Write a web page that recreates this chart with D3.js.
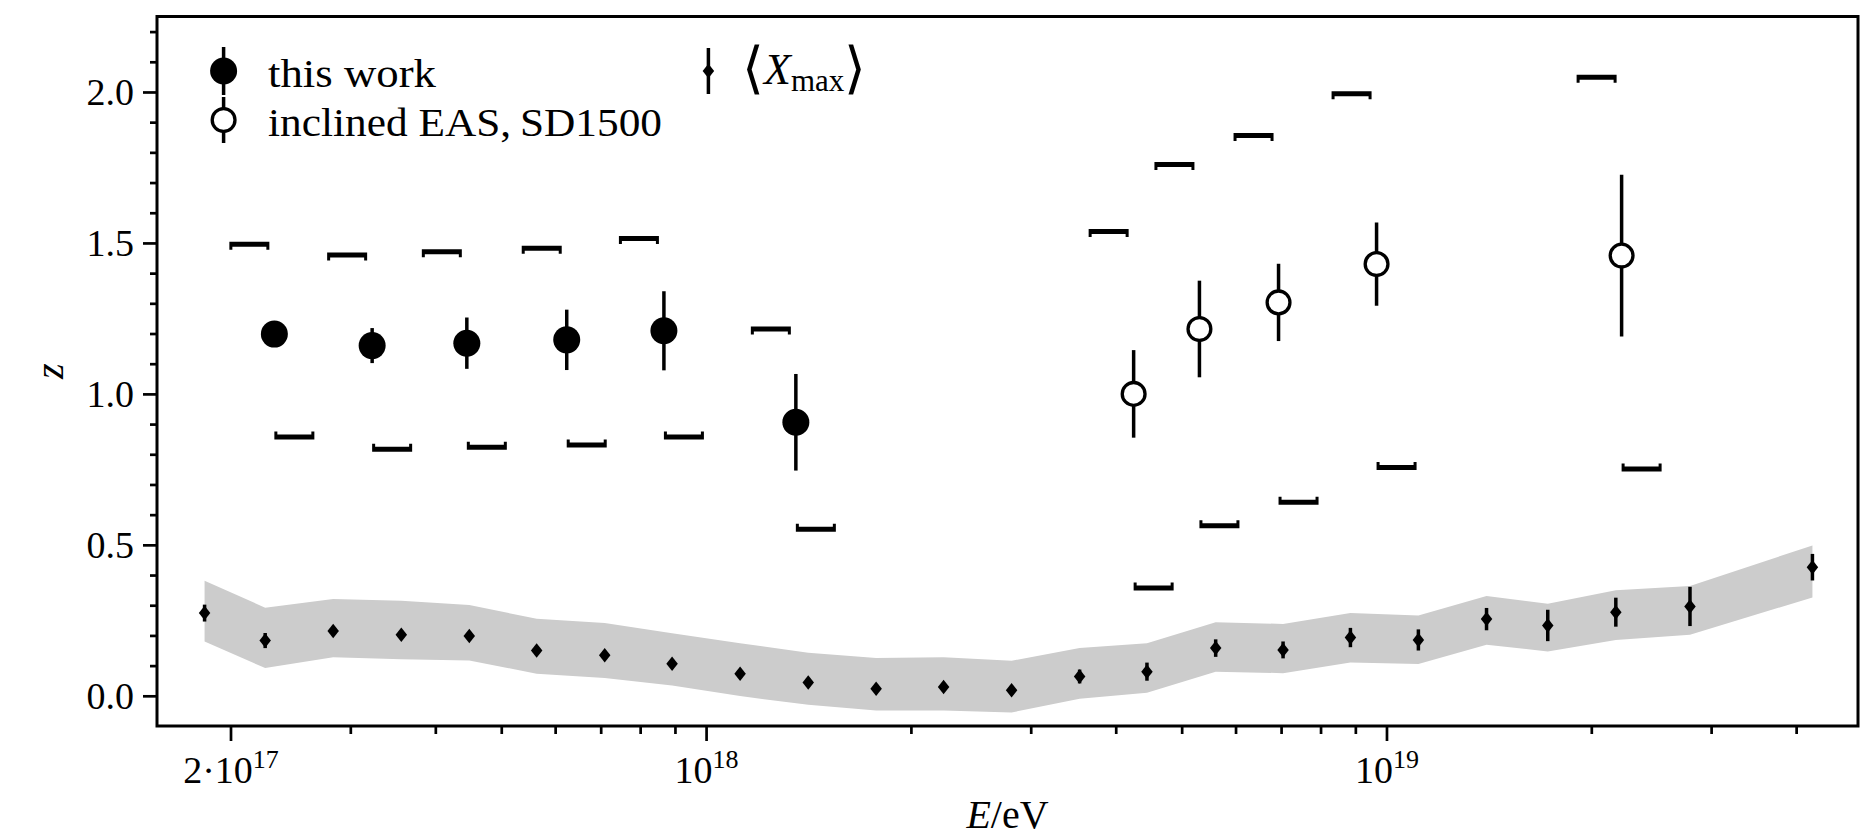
<!DOCTYPE html>
<html>
<head>
<meta charset="utf-8">
<script src="https://cdn.jsdelivr.net/npm/d3@7"></script>
<style>
  html, body { margin: 0; padding: 0; background: #fff; }
  svg { display: block; }
  text { font-family: "Liberation Serif", "DejaVu Serif", serif; fill: #000; }
</style>
</head>
<body>
<svg id="chart" width="1870" height="840"></svg>
<script>
// ---- z-factor measurements (this work, Auger SD-750) ----
const thisWorkE     = [2.32e17, 3.23e17, 4.45e17, 6.24e17, 8.67e17, 1.355e18];
const thisWorkZ     = [1.198, 1.160, 1.168, 1.179, 1.209, 0.906];
const thisWorkErr   = [0.030, 0.058, 0.085, 0.100, 0.131, 0.160];
const thisWorkSysUp = [1.496, 1.460, 1.471, 1.482, 1.515, 1.215];
const thisWorkSysLo = [0.857, 0.817, 0.823, 0.831, 0.857, 0.552];

// ---- inclined air showers, SD-1500 ----
const inclinedE     = [4.25e18, 5.31e18, 6.94e18, 9.67e18, 2.216e19];
const inclinedZ     = [1.000, 1.215, 1.303, 1.430, 1.458];
const inclinedErr   = [0.145, 0.160, 0.128, 0.138, 0.268];
const inclinedSysUp = [1.538, 1.760, 1.856, 1.994, 2.049];
const inclinedSysLo = [0.357, 0.563, 0.641, 0.756, 0.751];

// ---- expectation from <Xmax> with systematic band ----
const xmaxE = [1.832e17, 2.249e17, 2.831e17, 3.565e17, 4.487e17, 5.636e17, 7.096e17, 8.913e17,
               1.122e18, 1.413e18, 1.778e18, 2.234e18, 2.812e18, 3.540e18, 4.446e18, 5.610e18,
               7.047e18, 8.851e18, 1.114e19, 1.403e19, 1.726e19, 2.173e19, 2.793e19, 4.227e19];
const xmaxZ = [0.274, 0.183, 0.215, 0.202, 0.198, 0.150, 0.134, 0.106,
               0.073, 0.044, 0.023, 0.029, 0.018, 0.064, 0.080, 0.158,
               0.152, 0.193, 0.185, 0.254, 0.233, 0.277, 0.296, 0.426];
const xmaxErr = [0.028, 0.025, 0.012, 0.012, 0.012, 0.012, 0.012, 0.012,
                 0.012, 0.012, 0.012, 0.012, 0.014, 0.023, 0.030, 0.029,
                 0.028, 0.032, 0.035, 0.037, 0.052, 0.048, 0.065, 0.044];
const xmaxBandUp = [0.381, 0.292, 0.321, 0.315, 0.301, 0.255, 0.241, 0.207,
                    0.174, 0.143, 0.125, 0.128, 0.116, 0.158, 0.174, 0.244,
                    0.238, 0.274, 0.266, 0.331, 0.305, 0.350, 0.364, 0.498];
const xmaxBandLo = [0.180, 0.092, 0.128, 0.121, 0.117, 0.073, 0.059, 0.034,
                    -0.001, -0.030, -0.049, -0.049, -0.055, -0.010, 0.010, 0.080,
                    0.075, 0.110, 0.105, 0.169, 0.147, 0.185, 0.202, 0.326];

// ---- axes ----
const xDomain = [Math.pow(10, 17.193), Math.pow(10, 19.693)];
const yDomain = [-0.1, 2.25];
const xMajorTicks = [2e17, 1e18, 1e19];
const xTickLabels = [["2·10", "17"], ["10", "18"], ["10", "19"]];
const xMinorTicks = [3e17, 4e17, 5e17, 6e17, 7e17, 8e17, 9e17,
                     2e18, 3e18, 4e18, 5e18, 6e18, 7e18, 8e18, 9e18,
                     2e19, 3e19, 4e19];
const yMajorTicks = [0.0, 0.5, 1.0, 1.5, 2.0];
const yMinorTicks = [0.1, 0.2, 0.3, 0.4, 0.6, 0.7, 0.8, 0.9, 1.1, 1.2, 1.3, 1.4,
                     1.6, 1.7, 1.8, 1.9, 2.1, 2.2];

// ---- layout ----
const W = 1870, H = 840;
const margin = { left: 157, right: 12, top: 16.5, bottom: 114 };
const BAND_COLOR = "#cccccc";
const SERIF = "'Liberation Serif', 'DejaVu Serif', serif";

const svg = d3.select("#chart");
const x = d3.scaleLog().domain(xDomain).range([margin.left, W - margin.right]);
const y = d3.scaleLinear().domain(yDomain).range([H - margin.bottom, margin.top]);

svg.append("defs").append("clipPath").attr("id", "plot-clip")
  .append("rect")
  .attr("x", margin.left).attr("y", margin.top)
  .attr("width", W - margin.left - margin.right)
  .attr("height", H - margin.top - margin.bottom);

const plot = svg.append("g").attr("clip-path", "url(#plot-clip)");

// systematic band around the <Xmax> expectation
const bandData = xmaxE.map((e, i) => ({ e, lo: xmaxBandLo[i], hi: xmaxBandUp[i] }));
plot.append("path")
  .datum(bandData)
  .attr("fill", BAND_COLOR)
  .attr("d", d3.area().x(d => x(d.e)).y0(d => y(d.lo)).y1(d => y(d.hi)));

// <Xmax> points: thin diamonds with statistical error bars
const xmaxData = xmaxE.map((e, i) => ({ e, z: xmaxZ[i], err: xmaxErr[i] }));
const DIA_W = 11.5, DIA_H = 14.5;
const diamond = (cx, cy) =>
  `M${cx},${cy - DIA_H / 2}L${cx + DIA_W / 2},${cy}L${cx},${cy + DIA_H / 2}L${cx - DIA_W / 2},${cy}Z`;

plot.append("g").selectAll("line").data(xmaxData).join("line")
  .attr("x1", d => x(d.e)).attr("x2", d => x(d.e))
  .attr("y1", d => y(d.z - d.err)).attr("y2", d => y(d.z + d.err))
  .attr("stroke", "#000").attr("stroke-width", 3.5);
plot.append("g").selectAll("path").data(xmaxData).join("path")
  .attr("d", d => diamond(x(d.e), y(d.z)))
  .attr("fill", "#000");

// systematic-uncertainty brackets (upper bracket left of the point, lower bracket right of it)
const SYS_UP_SPAN = [-45, -5], SYS_LO_SPAN = [0, 40];
function bracket(x0, x1, yc, dir) {
  const t = 2.5, e = 5.5, w = 3;
  return `M${x0},${yc - dir * t}H${x1}V${yc + dir * e}H${x1 - w}V${yc + dir * t}` +
         `H${x0 + w}V${yc + dir * e}H${x0}Z`;
}
function drawBrackets(E, up, lo) {
  const g = plot.append("g").attr("fill", "#000");
  E.forEach((e, i) => {
    const px = x(e);
    g.append("path").attr("d", bracket(px + SYS_UP_SPAN[0], px + SYS_UP_SPAN[1], y(up[i]), 1));
    g.append("path").attr("d", bracket(px + SYS_LO_SPAN[0], px + SYS_LO_SPAN[1], y(lo[i]), -1));
  });
}
drawBrackets(thisWorkE, thisWorkSysUp, thisWorkSysLo);
drawBrackets(inclinedE, inclinedSysUp, inclinedSysLo);

// circle series with error bars
function drawCircles(E, Z, Err, filled) {
  const data = E.map((e, i) => ({ e, z: Z[i], err: Err[i] }));
  const g = plot.append("g");
  g.selectAll("line").data(data).join("line")
    .attr("x1", d => x(d.e)).attr("x2", d => x(d.e))
    .attr("y1", d => y(d.z - d.err)).attr("y2", d => y(d.z + d.err))
    .attr("stroke", "#000").attr("stroke-width", 3.5);
  g.selectAll("circle").data(data).join("circle")
    .attr("cx", d => x(d.e)).attr("cy", d => y(d.z))
    .attr("r", filled ? 13.5 : 11.4)
    .attr("fill", filled ? "#000" : "#fff")
    .attr("stroke", filled ? "none" : "#000")
    .attr("stroke-width", 3.3);
}
drawCircles(thisWorkE, thisWorkZ, thisWorkErr, true);
drawCircles(inclinedE, inclinedZ, inclinedErr, false);

// ---- axes ----
const TICK_W = 2.7;
const xAxisG = svg.append("g").attr("transform", `translate(0,${H - margin.bottom})`);
xAxisG.call(d3.axisBottom(x).tickValues(xMinorTicks).tickSize(8).tickFormat(""))
  .call(g => g.select(".domain").remove());
const xMajorG = svg.append("g").attr("transform", `translate(0,${H - margin.bottom})`);
xMajorG.call(d3.axisBottom(x).tickValues(xMajorTicks).tickSize(15).tickFormat(""))
  .call(g => g.select(".domain").remove());
xMajorG.selectAll(".tick text").each(function (d, i) {
  const t = d3.select(this).attr("y", 57).attr("dy", null)
    .attr("font-size", 38).attr("font-family", SERIF)
    .attr("text-anchor", "middle").attr("fill", "#000");
  t.text(null);
  t.append("tspan").text(xTickLabels[i][0]);
  t.append("tspan").attr("font-size", 26).attr("dy", -15).text(xTickLabels[i][1]);
});

const yAxisG = svg.append("g").attr("transform", `translate(${margin.left},0)`);
yAxisG.call(d3.axisLeft(y).tickValues(yMinorTicks).tickSize(7).tickFormat(""))
  .call(g => g.select(".domain").remove());
const yMajorG = svg.append("g").attr("transform", `translate(${margin.left},0)`);
yMajorG.call(d3.axisLeft(y).tickValues(yMajorTicks).tickSize(14).tickPadding(9).tickFormat(d3.format(".1f")))
  .call(g => g.select(".domain").remove());
yMajorG.selectAll(".tick text").attr("font-size", 38).attr("fill", "#000")
  .attr("font-family", SERIF).attr("dy", "0.34em");

svg.selectAll(".tick line").attr("stroke", "#000").attr("stroke-width", TICK_W);

// frame
svg.append("rect")
  .attr("x", margin.left).attr("y", margin.top)
  .attr("width", W - margin.left - margin.right)
  .attr("height", H - margin.top - margin.bottom)
  .attr("fill", "none").attr("stroke", "#000").attr("stroke-width", 3);

// axis titles
const xt = svg.append("text")
  .attr("x", (margin.left + W - margin.right) / 2).attr("y", 828)
  .attr("text-anchor", "middle").attr("font-size", 40).attr("font-family", SERIF);
xt.append("tspan").attr("font-style", "italic").text("E");
xt.append("tspan").text("/eV");

svg.append("text")
  .attr("transform", `translate(63,${(margin.top + H - margin.bottom) / 2}) rotate(-90)`)
  .attr("text-anchor", "middle").attr("font-size", 40).attr("font-family", SERIF)
  .attr("font-style", "italic").text("z");

// ---- legend ----
const legend = svg.append("g");
const legendRows = [
  { hx: 223.6, hy: 71,  half: 24, type: "filled", label: "this work", tx: 268, len: 168 },
  { hx: 223.6, hy: 120, half: 23, type: "open",   label: "inclined EAS,\u2009SD1500", tx: 268, len: 394 },
  { hx: 708.4, hy: 71,  half: 23, type: "diamond" }
];
legendRows.forEach(r => {
  legend.append("line")
    .attr("x1", r.hx).attr("x2", r.hx).attr("y1", r.hy - r.half).attr("y2", r.hy + r.half)
    .attr("stroke", "#000").attr("stroke-width", 3.5);
  if (r.type === "diamond") {
    legend.append("path").attr("d", diamond(r.hx, r.hy)).attr("fill", "#000");
  } else {
    legend.append("circle").attr("cx", r.hx).attr("cy", r.hy)
      .attr("r", r.type === "filled" ? 13.5 : 11.4)
      .attr("fill", r.type === "filled" ? "#000" : "#fff")
      .attr("stroke", r.type === "filled" ? "none" : "#000").attr("stroke-width", 3.3);
  }
  if (r.label) {
    legend.append("text").attr("x", r.tx).attr("y", r.hy + 16)
      .attr("font-size", 39).attr("font-family", SERIF)
      .attr("textLength", r.len).attr("lengthAdjust", "spacingAndGlyphs")
      .text(r.label);
  }
});
// <X_max> label
const xm = legend.append("text").attr("x", 742).attr("y", 84)
  .attr("font-size", 44).attr("font-family", SERIF);
xm.append("tspan").attr("font-family", "'DejaVu Sans', sans-serif").attr("font-weight", 200)
  .attr("font-size", 56).attr("dy", 3).text("\u27E8");
xm.append("tspan").attr("font-style", "italic").attr("dy", -3).text("X");
xm.append("tspan").attr("font-size", 31).attr("dy", 7).text("max");
xm.append("tspan").attr("font-family", "'DejaVu Sans', sans-serif").attr("font-weight", 200)
  .attr("font-size", 56).attr("dy", -4).text("\u27E9");
</script>
</body>
</html>
